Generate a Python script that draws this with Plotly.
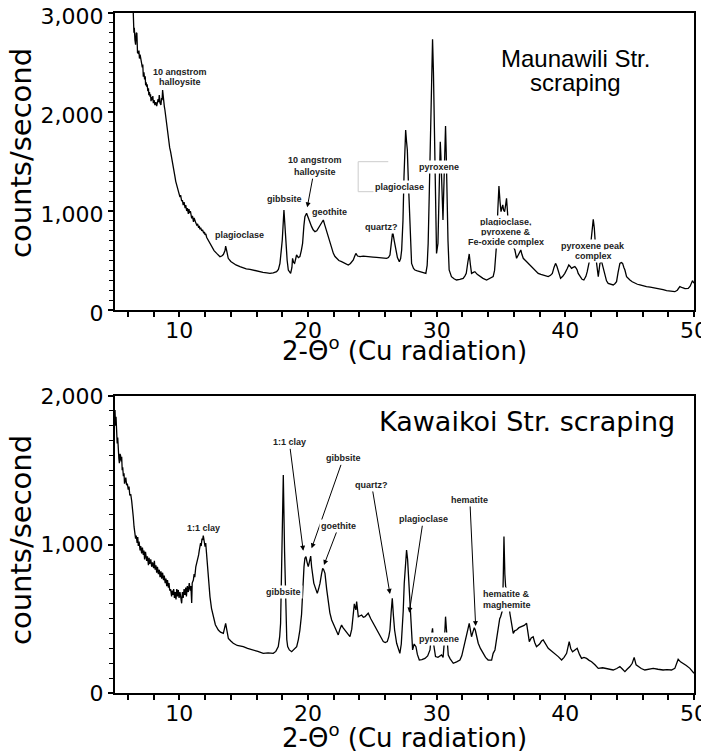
import plotly.graph_objects as go

# ---------------- data ----------------
maun_x = [6.2, 6.42, 6.47, 6.5, 6.55, 6.6, 6.65, 6.7, 6.75, 6.81, 6.86, 6.9, 6.95, 7.0, 7.07, 7.12, 7.16, 7.2,
          7.25, 7.3, 7.35, 7.38, 7.42, 7.46, 7.5, 7.55, 7.6, 7.63, 7.68, 7.72, 7.76, 7.8, 7.85, 7.9, 7.94, 7.98,
          8.04, 8.1, 8.17, 8.24, 8.3, 8.35, 8.4, 8.44, 8.5, 8.57, 8.62, 8.66, 8.7, 8.74, 8.78, 8.83, 8.88, 8.94,
          9.01, 9.07, 9.14, 9.2, 9.25, 9.32, 9.4, 9.45, 9.5, 9.58, 9.66, 9.72, 9.8, 9.86, 9.92, 9.98, 10.05,
          10.1, 10.18, 10.24, 10.3, 10.37, 10.45, 10.5, 10.57, 10.63, 10.7, 10.75, 10.8, 10.86, 10.92, 10.96,
          11.02, 11.1, 11.15, 11.2, 11.28, 11.35, 11.42, 11.5, 11.55, 11.6, 11.66, 11.74, 11.8, 11.9, 11.95,
          12.0, 12.06, 12.12, 12.3, 12.51, 12.7, 12.9, 13.0, 13.16, 13.3, 13.42, 13.55, 13.6, 13.68,
          13.8, 14.0, 14.19, 14.4, 14.71, 15.0, 15.2, 15.49, 15.8, 16.0, 16.27, 16.5, 16.8, 17.04, 17.3, 17.56,
          17.7, 17.82, 17.92, 18.0, 18.13, 18.22, 18.29, 18.38, 18.47, 18.65, 18.75, 18.8, 18.88, 18.96, 19.05,
          19.11, 19.25, 19.37, 19.48, 19.58, 19.68, 19.76, 19.89, 20.02, 20.15, 20.28, 20.4, 20.54, 20.68, 20.8,
          21.0, 21.19, 21.3, 21.45, 21.6, 21.71, 21.85, 21.97, 22.1, 22.23, 22.4, 22.61, 22.85, 23.13, 23.3,
          23.52, 23.62, 23.72, 23.85, 24.04, 24.3, 24.56, 24.8, 25.05, 25.33, 25.6, 25.9, 26.11, 26.25, 26.37,
          26.48, 26.58, 26.7, 26.84, 26.95, 27.1, 27.2, 27.28, 27.38, 27.46, 27.52, 27.59, 27.66, 27.72, 27.8,
          27.87, 27.95, 28.05, 28.2, 28.31, 28.5, 28.7, 28.95, 29.16, 29.26, 29.34, 29.43, 29.52, 29.6, 29.68,
          29.75, 29.83, 29.91, 29.99, 30.1, 30.2, 30.28, 30.33, 30.38, 30.44, 30.49, 30.54, 30.59, 30.69, 30.74,
          30.8, 30.88, 30.97, 31.15, 31.35, 31.54, 31.8, 32.06, 32.2, 32.3, 32.42, 32.53, 32.62, 32.71, 32.85,
          32.97, 33.15, 33.36, 33.6, 33.88, 34.1, 34.39, 34.5, 34.58, 34.66, 34.75, 34.84, 34.92, 35.0, 35.07,
          35.14, 35.2, 35.28, 35.36, 35.43, 35.5, 35.6, 35.75, 35.9, 36.0, 36.08, 36.21, 36.32, 36.42, 36.54,
          36.63, 36.73, 36.9, 37.11, 37.3, 37.5, 37.7, 37.89, 38.1, 38.28, 38.5, 38.67, 38.85, 38.99, 39.12,
          39.24, 39.35, 39.45, 39.63, 39.8, 39.96, 40.15, 40.27, 40.38, 40.48, 40.6, 40.74, 40.85, 40.92, 41.0,
          41.13, 41.3, 41.44, 41.6, 41.7, 41.86, 42.0, 42.1, 42.17, 42.25, 42.35, 42.43, 42.56, 42.69, 42.82,
          42.95, 43.07, 43.2, 43.33, 43.5, 43.72, 43.85, 43.98, 44.1, 44.24, 44.35, 44.45, 44.55, 44.63, 44.76,
          44.9, 45.02, 45.2, 45.41, 45.6, 45.8, 46.0, 46.31, 46.6, 46.85, 47.09, 47.4, 47.6, 47.87, 48.1, 48.3,
          48.51, 48.7, 48.9, 49.1, 49.3, 49.55, 49.7, 49.88, 50.0]
maun_y = [3300, 3000, 2800, 2850, 2727, 2680, 2800, 2795, 2600, 2593, 2620, 2540, 2580, 2510, 2492, 2450, 2480, 2357,
          2400, 2330, 2360, 2270, 2300, 2256, 2280, 2210, 2240, 2170, 2200, 2155, 2180, 2110, 2150, 2120, 2160, 2090,
          2120, 2070, 2100, 2060, 2090, 2130, 2100, 2172, 2090, 2071, 2140, 2120, 2222, 2150, 2100, 2060, 2020, 1960,
          1886, 1800, 1717, 1690, 1640, 1600, 1549, 1500, 1470, 1400, 1347, 1300, 1260, 1220, 1195, 1180, 1140,
          1160, 1100, 1110, 1060, 1090, 1030, 1060, 1000, 1030, 970, 1020, 980, 1000, 940, 926,
          950, 890, 930, 900, 880, 859, 870, 830, 850, 815, 830, 800, 810, 775, 790,
          760, 770, 735, 690, 640, 600, 572, 560, 539, 545, 560, 600, 646, 600,
          522, 490, 471, 455, 438, 425, 415, 411, 400, 395, 387, 380, 375, 370, 375, 387,
          410, 471, 600, 707, 1010, 800, 640, 500, 404, 370, 430, 522, 480, 471, 520,
          556, 530, 539, 600, 673, 850, 943, 977, 926, 880, 842, 810, 791, 800, 825,
          870, 909, 860, 791, 720, 673, 610, 572, 540, 522, 500, 488, 470, 455, 470,
          505, 540, 572, 545, 539, 545, 539, 540, 535, 532, 528, 525, 522, 530, 556,
          680, 791, 700, 606, 530, 488, 520, 606, 900, 1347, 1650, 1818, 1700, 1616, 1300,
          1010, 700, 471, 420, 404, 395, 387, 380, 370, 450, 673, 1200, 1852, 2400, 2734,
          2400, 1852, 1000, 572, 673, 1515, 1700, 1550, 1347, 1100, 909, 1150, 1515, 1859, 1600,
          1178, 700, 404, 337, 315, 303, 310, 320, 345, 370, 480, 566, 460, 370, 380,
          387, 360, 337, 320, 303, 315, 337, 400, 520, 673, 1000, 1252, 1100, 993, 1030,
          1061, 1010, 993, 1060, 1128, 1000, 800, 700, 650, 620, 606, 522, 550, 572, 606,
          560, 522, 500, 471, 445, 421, 395, 370, 360, 354, 345, 337, 350, 370, 430,
          471, 440, 404, 320, 340, 370, 420, 455, 440, 421, 430, 438, 420, 404, 370,
          337, 310, 303, 340, 387, 488, 700, 860, 916, 830, 600, 471, 337, 471, 488,
          420, 337, 295, 269, 260, 253, 265, 286, 380, 471, 480, 471, 430, 404, 337,
          315, 303, 285, 269, 260, 253, 245, 236, 230, 225, 219, 210, 205, 196, 190, 188,
          185, 200, 236, 225, 215, 219, 240, 296, 270]

kawa_x = [5.0, 5.04, 5.08, 5.13, 5.17, 5.21, 5.25, 5.3, 5.34, 5.39, 5.43, 5.48, 5.52, 5.56, 5.6, 5.65, 5.7, 5.74,
          5.78, 5.84, 5.9, 5.96, 6.03, 6.09, 6.15, 6.22, 6.3, 6.36, 6.42, 6.48, 6.52, 6.55, 6.6, 6.65, 6.72, 6.77,
          6.81, 6.87, 6.95, 7.0, 7.07, 7.13, 7.2, 7.25, 7.3, 7.37, 7.46, 7.52, 7.6, 7.65, 7.7, 7.78, 7.85, 7.92,
          8.0, 8.06, 8.12, 8.18, 8.24, 8.3, 8.37, 8.44, 8.5, 8.57, 8.63, 8.7, 8.77, 8.83, 8.9, 8.96, 9.02, 9.08,
          9.15, 9.2, 9.25, 9.32, 9.4, 9.45, 9.5, 9.56, 9.62, 9.68, 9.74, 9.8, 9.86, 9.92, 9.98, 10.05, 10.12,
          10.18, 10.24, 10.3, 10.37, 10.44, 10.5, 10.55, 10.62, 10.7, 10.77, 10.85, 10.9, 10.96, 11.0, 11.09,
          11.15, 11.2, 11.28, 11.35, 11.42, 11.5, 11.55, 11.6, 11.65, 11.7, 11.76, 11.81, 11.86, 11.9, 11.95,
          12.0, 12.05, 12.1, 12.18, 12.28, 12.38, 12.5, 12.64, 12.8,
          13.03, 13.2, 13.42, 13.52, 13.6, 13.7, 13.81, 14.0, 14.19, 14.5, 14.97, 15.3, 15.75, 16.1, 16.52, 16.9,
          17.3, 17.5, 17.69, 17.8, 17.87, 17.97, 18.08, 18.18, 18.28, 18.35, 18.42, 18.55, 18.73, 18.9, 19.12,
          19.25, 19.37, 19.5, 19.58, 19.69, 19.76, 19.84, 19.93, 20.02, 20.1, 20.21, 20.28, 20.36, 20.45, 20.54,
          20.63, 20.72, 20.82, 20.93, 21.05, 21.14, 21.22, 21.32, 21.45, 21.58, 21.7, 21.84, 21.95, 22.09, 22.2,
          22.35, 22.48, 22.61, 22.72, 22.87, 23.05, 23.26, 23.4, 23.52, 23.6, 23.65, 23.72, 23.78, 23.85, 23.91,
          24.05, 24.17, 24.3, 24.43, 24.55, 24.68, 24.88, 25.07, 25.25, 25.46, 25.65, 25.85, 26.0, 26.16, 26.28,
          26.37, 26.46, 26.55, 26.64, 26.73, 26.89, 27.0, 27.14, 27.25, 27.33, 27.4, 27.48, 27.57, 27.66, 27.74,
          27.82, 27.92, 28.02, 28.13, 28.25, 28.39, 28.5, 28.65, 28.85, 29.09, 29.3, 29.48, 29.58, 29.68, 29.78,
          29.91, 30.1, 30.25, 30.38, 30.5, 30.6, 30.69, 30.78, 30.9, 31.05, 31.29, 31.55, 31.81, 31.95, 32.07,
          32.2, 32.33, 32.43, 32.53, 32.62, 32.71, 32.78, 32.84, 32.92, 33.0, 33.1, 33.23, 33.4, 33.62, 33.8,
          34.0, 34.27, 34.39, 34.53, 34.65, 34.78, 34.9, 34.97, 35.05, 35.12, 35.18, 35.23, 35.3, 35.36, 35.45,
          35.55, 35.69, 35.8, 35.95, 36.08, 36.21, 36.4, 36.6, 36.8, 36.99, 37.1, 37.2, 37.35, 37.5, 37.62,
          37.76, 38.0, 38.15, 38.28, 38.45, 38.67, 38.9, 39.19, 39.45, 39.71, 39.9, 40.1, 40.2, 40.3, 40.42,
          40.56, 40.75, 40.92, 41.1, 41.26, 41.45, 41.65, 41.85, 42.04, 42.3, 42.56, 42.9, 43.2, 43.45, 43.72,
          44.0, 44.24, 44.45, 44.63, 44.8, 45.02, 45.2, 45.35, 45.5, 45.67, 45.9, 46.18, 46.5, 46.83, 47.2,
          47.6, 47.9, 48.25, 48.51, 48.65, 48.77, 48.95, 49.16, 49.4, 49.68, 49.85, 50.0]
kawa_y = [1906, 1800, 1860, 1749, 1680, 1720, 1620, 1580, 1547, 1610, 1600, 1560, 1591, 1500, 1520, 1460, 1480, 1410,
          1434, 1450, 1400, 1410, 1370, 1390, 1330, 1340, 1290, 1250, 1187, 1120, 1090, 1075, 1040, 1060, 1010, 1050,
          990, 1020, 960, 990, 940, 980, 930, 960, 900, 950, 890, 920, 860, 910, 870, 900, 850, 880,
          840, 890, 830, 860, 810, 850, 800, 830, 780, 820, 770, 810, 760, 790, 740, 770, 720, 760,
          710, 740, 690, 700, 650, 690, 660, 700, 640, 680, 630, 700, 650, 694, 640, 680, 620,
          604, 680, 640, 700, 660, 710, 650, 720, 680, 740, 690, 720, 606, 740, 761,
          800, 780, 850, 873, 900, 930, 960, 985, 1010, 990, 1040, 1030, 1060, 1040, 1000,
          985, 1010, 950, 851, 750, 649, 570, 514, 460,
          424, 410, 402, 430, 469, 420, 368, 350, 335, 320, 312, 300, 290, 280, 267, 270,
          267, 280, 312, 380, 469, 900, 1468, 950, 469, 360, 312, 290, 278, 295, 312,
          360, 424, 530, 694, 851, 907, 918, 880, 851, 880, 922, 850, 783, 740, 716,
          690, 671, 700, 738, 800, 840, 830, 806, 700, 604, 540, 492, 470, 447, 420,
          391, 430, 458, 440, 424, 400, 379, 430, 514, 600, 581, 560, 615, 560, 514,
          520, 525, 510, 514, 525, 537, 500, 469, 440, 413, 380, 346, 340, 346, 380,
          424, 540, 638, 520, 424, 335, 300, 267, 330, 424, 550, 738, 900, 963, 900,
          783, 671, 469, 290, 330, 312, 260, 222, 225, 233, 250, 290, 380, 435, 320,
          245, 240, 250, 256, 240, 350, 514, 380, 256, 230, 200, 210, 222, 250, 290,
          340, 379, 430, 469, 420, 379, 400, 424, 440, 424, 380, 335, 300, 267, 240,
          222, 222, 267, 290, 360, 447, 500, 514, 540, 559, 800, 1053, 800, 716, 700,
          650, 537, 470, 402, 420, 424, 440, 447, 455, 469, 400, 346, 370, 379, 340,
          312, 330, 350, 357, 330, 301, 285, 267, 245, 222, 240, 267, 310, 346, 300,
          278, 290, 301, 260, 233, 240, 233, 220, 211, 190, 166, 170, 166, 160, 155,
          165, 178, 160, 144, 160, 178, 200, 240, 190, 178, 165, 155, 160, 166, 160,
          155, 158, 155, 166, 200, 227, 210, 200, 185, 166, 150, 133]

x_range = [5, 50]
maun_y_range = [0, 3000]
kawa_y_range = [0, 2000]

# ---------------- figure ----------------
W, H = 709, 753
OX, OY = 8, 8          # the page body margin places the figure 8px in from the corner


def fx(px):
    return (px - OX) / W


def fy(py):
    return (H - (py - OY)) / H


fig = go.Figure()
fig.add_trace(go.Scatter(x=maun_x, y=maun_y, mode="lines", xaxis="x", yaxis="y",
                         line=dict(color="black", width=1.3), hoverinfo="skip"))
fig.add_trace(go.Scatter(x=kawa_x, y=kawa_y, mode="lines", xaxis="x2", yaxis="y2",
                         line=dict(color="black", width=1.3), hoverinfo="skip"))

big = "DejaVu Sans"
small = dict(family="Liberation Sans", size=9, color="#222")


def xax(anchor):
    return dict(domain=[fx(115), fx(694)], range=x_range, anchor=anchor, tick0=0, dtick=10,
                ticks="outside", ticklen=5, tickwidth=1.5, tickcolor="black",
                minor=dict(tick0=0, dtick=2, ticks="outside", ticklen=5, tickwidth=1.5, tickcolor="black"),
                showline=True, linewidth=2, linecolor="black", mirror=True,
                showgrid=False, zeroline=False, automargin=False, ticklabelstandoff=-5,
                ticklabeloverflow="allow",
                tickfont=dict(family=big, size=22, color="black"))


def yax(anchor, rng, top, bottom, shift):
    return dict(domain=[fy(bottom), fy(top)], range=rng, anchor=anchor, tick0=0, dtick=1000,
                tickformat=",d", ticks="outside", ticklen=5, tickwidth=1.5, tickcolor="black",
                minor=dict(tick0=0, dtick=100, ticks="outside", ticklen=4, tickwidth=1.2, tickcolor="black"),
                showline=True, linewidth=2, linecolor="black", mirror=True,
                showgrid=False, zeroline=False, ticklabelstandoff=0, automargin=False,
                ticklabeloverflow="allow", ticklabelshift=shift,
                tickfont=dict(family=big, size=22, color="black"))


fig.update_layout(
    template="none",
    width=W, height=H, margin=dict(l=0, r=0, t=0, b=0, pad=0, autoexpand=False),
    paper_bgcolor="white", plot_bgcolor="white", showlegend=False,
    xaxis=xax("y"), yaxis=yax("x", maun_y_range, 13, 310, 3),
    xaxis2=xax("y2"), yaxis2=yax("x2", kawa_y_range, 396, 693, 0),
)

ann = []


def lab(text, x, y, ax="x", ay="y"):
    ann.append(dict(text="<b>%s</b>" % text, x=x, y=y, xref=ax, yref=ay, showarrow=False,
                    font=small, bgcolor="white", borderpad=1))


def arr(text, tx, ty, hx, hy, ax="x", ay="y"):
    ann.append(dict(text="<b>%s</b>" % text, x=hx, y=hy, ax=tx, ay=ty, xref=ax, yref=ay,
                    axref=ax, ayref=ay, showarrow=True, arrowhead=2, arrowsize=1, arrowwidth=1,
                    arrowcolor="black", font=small, bgcolor="white", borderpad=1))


# top panel labels
lab("10 angstrom", 10.05, 2407)
lab("halloysite", 10.05, 2306)
lab("plagioclase", 14.66, 757)
lab("gibbsite", 18.21, 1118)
arr("10 angstrom<br>halloysite", 20.54, 1453, 19.94, 1037)
lab("geothite", 21.65, 990)
lab("quartz?", 25.72, 842)
lab("plagioclase", 27.14, 1239)
lab("pyroxene", 30.2, 1448)
lab("plagioclase,", 35.36, 892)
lab("pyroxene &", 35.36, 791)
lab("Fe-oxide complex", 35.4, 684)
lab("pyroxene peak", 42.17, 650)
lab("complex", 42.17, 545)
ann.append(dict(text="Maunawili Str.", x=40.8, y=2545, xref="x", yref="y", showarrow=False,
                font=dict(family="Liberation Sans", size=24, color="black")))
ann.append(dict(text="scraping", x=40.8, y=2303, xref="x", yref="y", showarrow=False,
                font=dict(family="Liberation Sans", size=24, color="black")))

# bottom panel labels
lab("1:1 clay", 11.89, 1109, "x2", "y2")
arr("1:1 clay", 18.55, 1688, 19.63, 958, "x2", "y2")
arr("gibbsite", 22.74, 1580, 20.28, 974, "x2", "y2")
arr("goethite", 22.4, 1125, 21.24, 862, "x2", "y2")
lab("gibbsite", 18.08, 682, "x2", "y2")
arr("quartz?", 24.95, 1401, 26.37, 667, "x2", "y2")
arr("plagioclase", 28.96, 1170, 27.87, 541, "x2", "y2")
arr("hematite", 32.58, 1300, 33.03, 451, "x2", "y2")
lab("pyroxene", 30.2, 361, "x2", "y2")
lab("hematite &", 35.43, 667, "x2", "y2")
lab("maghemite", 35.43, 593, "x2", "y2")
ann.append(dict(text="Kawaikoi Str. scraping", x=36.99, y=1827, xref="x2", yref="y2", showarrow=False,
                font=dict(family=big, size=27, color="black")))

# axis titles
for yc in (153, 540):
    ann.append(dict(text="counts/second", x=fx(21), y=fy(yc), xref="paper", yref="paper",
                    showarrow=False, textangle=-90, xanchor="center", yanchor="middle",
                    font=dict(family=big, size=29, color="black")))
for yc in (349, 736):
    ann.append(dict(text="2-Θ<sup>o</sup> (Cu radiation)", x=fx(404.5), y=fy(yc),
                    xref="paper", yref="paper", showarrow=False, xanchor="center", yanchor="middle",
                    font=dict(family=big, size=26, color="black")))

fig.update_layout(annotations=ann)

# faint grey bracket seen in the upper panel
fig.add_shape(type="path", xref="x", yref="y", path="M 26.24 1498 L 23.9 1498 L 23.9 1195 L 26.24 1195",
              line=dict(color="#cccccc", width=1))

fig.write_html("out.html")
